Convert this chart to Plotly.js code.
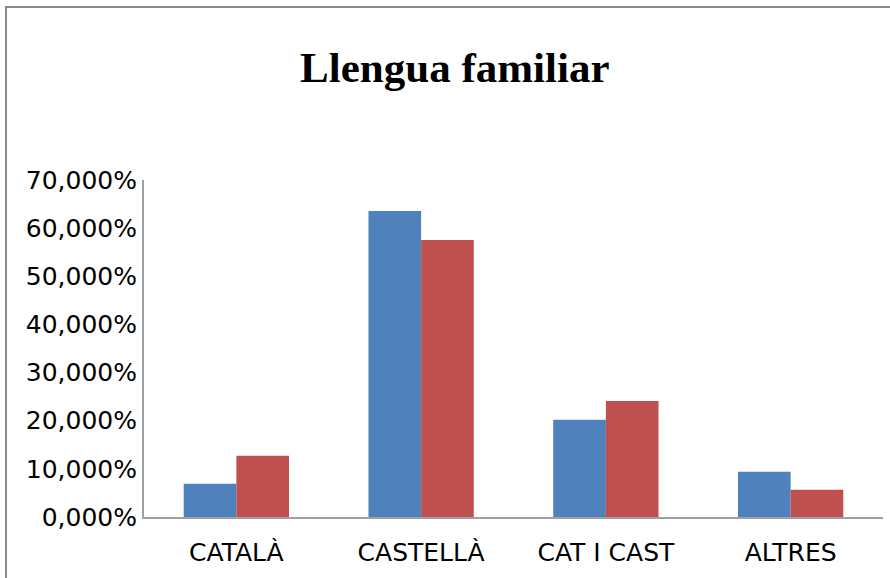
<!DOCTYPE html>
<html>
<head>
<meta charset="utf-8">
<script src="https://cdn.plot.ly/plotly-3.0.1.min.js"></script>
<style>
html,body{margin:0;padding:0;background:#fff;}
#chart{width:890px;height:578px;}
</style>
</head>
<body>
<div id="chart"></div>
<script>
const categories = ["CATALÀ", "CASTELLÀ", "CAT I CAST", "ALTRES"];
const series1 = [6.9, 63.55, 20.2, 9.4];
const series2 = [12.7, 57.55, 24.1, 5.65];
const yTicks = [0, 10, 20, 30, 40, 50, 60, 70];
const yTickLabels = ["0,000%", "10,000%", "20,000%", "30,000%", "40,000%", "50,000%", "60,000%", "70,000%"];

const traces = [
  {type: "bar", x: categories, y: series1, name: "Sèrie 1", marker: {color: "#4F81BD"}, hoverinfo: "x+y"},
  {type: "bar", x: categories, y: series2, name: "Sèrie 2", marker: {color: "#C0504D"}, hoverinfo: "x+y"}
];

const L = 144, R = 7, T = 180, B = 61;
const W = 890, H = 578;
const pw = W - L - R, ph = H - T - B;
const px = v => (v - L) / pw;
const py = v => (H - B - v) / ph;

const layout = {
  width: W, height: H,
  margin: {l: L, r: R, t: T, b: B, pad: 0},
  paper_bgcolor: "#fff", plot_bgcolor: "#fff",
  showlegend: false,
  barmode: "group",
  bargap: 0.43,
  bargroupgap: 0,
  title: {
    text: "<b>Llengua familiar</b>",
    font: {family: "Liberation Serif, serif", size: 43, color: "#000"},
    x: 0.511, xanchor: "center", y: 0.885, yanchor: "middle"
  },
  xaxis: {
    type: "category",
    showgrid: false, zeroline: false,
    showline: true, linecolor: "#a0a0a0", linewidth: 2,
    ticks: "", ticklen: 0, ticklabelstandoff: 12,
    tickfont: {family: "DejaVu Sans, sans-serif", size: 25, color: "#000"},
    automargin: false
  },
  yaxis: {
    range: [0, 70],
    tickvals: yTicks, ticktext: yTickLabels,
    showgrid: false, zeroline: false,
    showline: true, linecolor: "#a0a0a0", linewidth: 2,
    ticks: "", ticklen: 0,
    tickfont: {family: "DejaVu Sans, sans-serif", size: 25, color: "#000"},
    automargin: false
  },
  shapes: [
    {type: "rect", xref: "paper", yref: "paper",
     x0: px(6), x1: px(900), y0: py(600), y1: py(7),
     line: {color: "#888888", width: 2}, fillcolor: "rgba(0,0,0,0)", layer: "below"}
  ]
};

Plotly.newPlot("chart", traces, layout, {displayModeBar: false, staticPlot: true});
</script>
</body>
</html>
